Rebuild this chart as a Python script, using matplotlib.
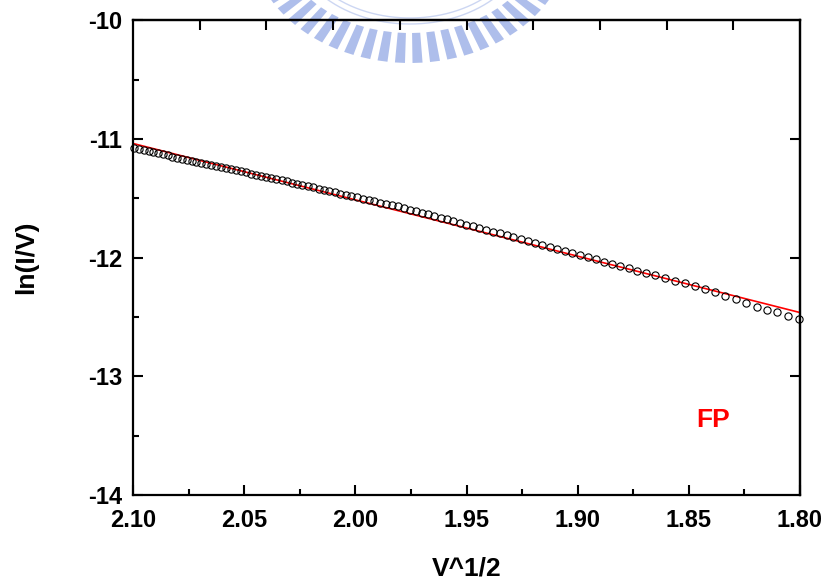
import numpy as np
import matplotlib.pyplot as plt
from matplotlib.patches import Polygon
from matplotlib.ticker import MultipleLocator

plt.rcParams['font.family'] = ['Liberation Sans', 'DejaVu Sans']
plt.rcParams['font.weight'] = 'bold'
plt.rcParams['axes.unicode_minus'] = False

# measured points, ln(I/V) vs V^1/2
v_sqrt = [2.0994, 2.0973, 2.0951, 2.0930, 2.0909, 2.0888, 2.0866, 2.0845, 2.0823, 2.0802,
          2.0780, 2.0758, 2.0737, 2.0715, 2.0693, 2.0671, 2.0649, 2.0627, 2.0605, 2.0583,
          2.0560, 2.0538, 2.0515, 2.0493, 2.0470, 2.0447, 2.0424, 2.0401, 2.0379, 2.0356,
          2.0332, 2.0309, 2.0285, 2.0262, 2.0238, 2.0214, 2.0190, 2.0166, 2.0141, 2.0117,
          2.0092, 2.0068, 2.0043, 2.0018, 1.9992, 1.9967, 1.9941, 1.9916, 1.9890, 1.9863,
          1.9837, 1.9810, 1.9783, 1.9756, 1.9729, 1.9701, 1.9673, 1.9646, 1.9617, 1.9589,
          1.9560, 1.9531, 1.9502, 1.9472, 1.9443, 1.9412, 1.9382, 1.9351, 1.9320, 1.9289,
          1.9257, 1.9225, 1.9192, 1.9160, 1.9126, 1.9092, 1.9058, 1.9024, 1.8989, 1.8954,
          1.8918, 1.8882, 1.8845, 1.8808, 1.8770, 1.8732, 1.8693, 1.8654, 1.8608, 1.8562,
          1.8517, 1.8472, 1.8427, 1.8382, 1.8337, 1.8289, 1.8243, 1.8194, 1.8147, 1.8102,
          1.8052, 1.8003]
ln_iv = [-11.078, -11.086, -11.095, -11.103, -11.112, -11.121, -11.129, -11.138, -11.147, -11.156,
         -11.164, -11.173, -11.182, -11.191, -11.199, -11.208, -11.217, -11.226, -11.235, -11.244,
         -11.253, -11.262, -11.271, -11.281, -11.290, -11.299, -11.308, -11.318, -11.327, -11.337,
         -11.347, -11.357, -11.367, -11.377, -11.387, -11.397, -11.407, -11.418, -11.428, -11.438,
         -11.449, -11.459, -11.470, -11.480, -11.491, -11.502, -11.513, -11.524, -11.535, -11.546,
         -11.557, -11.568, -11.581, -11.594, -11.608, -11.621, -11.635, -11.649, -11.663, -11.677,
         -11.692, -11.706, -11.720, -11.735, -11.750, -11.765, -11.780, -11.795, -11.811, -11.826,
         -11.842, -11.858, -11.874, -11.891, -11.908, -11.925, -11.942, -11.960, -11.978, -11.996,
         -12.014, -12.033, -12.051, -12.070, -12.090, -12.109, -12.129, -12.149, -12.172, -12.194,
         -12.216, -12.236, -12.267, -12.292, -12.320, -12.348, -12.380, -12.413, -12.444, -12.460,
         -12.489, -12.517]

# linear fit (Frenkel-Poole)
fit_x = [2.10, 1.80]
fit_y = [-11.037, -12.462]

fig = plt.figure(figsize=(8.32, 5.82), dpi=100)

# faint watermark logo at the top, drawn in pixel space behind the plot
bg = fig.add_axes([0, 0, 1, 1], zorder=0)
bg.set_xlim(0, 832)
bg.set_ylim(582, 0)
bg.axis('off')
cx, cy = 410, -62
logo_col = '#9aaee6'
for ang in np.arange(18, 163, 6.3):
    t0, t1 = np.radians(ang - 1.8), np.radians(ang + 1.8)
    pts = [(cx + 130 * np.cos(t0), cy + 95 * np.sin(t0)),
           (cx + 160 * np.cos(t0), cy + 125 * np.sin(t0)),
           (cx + 160 * np.cos(t1), cy + 125 * np.sin(t1)),
           (cx + 130 * np.cos(t1), cy + 95 * np.sin(t1))]
    bg.add_patch(Polygon(pts, closed=True, color=logo_col, alpha=0.8, lw=0))
tt = np.radians(np.linspace(15, 165, 200))
for a, b in [(118, 86), (112, 80)]:
    bg.plot(cx + a * np.cos(tt), cy + b * np.sin(tt), color=logo_col, lw=1.0, alpha=0.5)

ax = fig.add_axes([0.160, 0.1495, 0.8015, 0.8153], zorder=1)
ax.patch.set_alpha(0)

ax.plot(fit_x, fit_y, color='red', lw=1.2, zorder=2)
ax.plot(v_sqrt, ln_iv, 'o', mfc='none', mec='black', ms=5.2, mew=0.8, zorder=3, clip_on=False)

ax.set_xlim(2.10, 1.80)
ax.set_ylim(-14, -10)
ax.xaxis.set_major_locator(MultipleLocator(0.05))
ax.xaxis.set_minor_locator(MultipleLocator(0.025))
ax.yaxis.set_major_locator(MultipleLocator(1))
ax.yaxis.set_minor_locator(MultipleLocator(0.5))
ax.xaxis.set_major_formatter(plt.FormatStrFormatter('%.2f'))

ax.tick_params(which='both', direction='in', top=False, right=False, width=1.5)
ax.tick_params(which='major', length=7, labelsize=17)
ax.tick_params(axis='x', which='major', pad=10)
ax.tick_params(axis='y', which='major', pad=8)
ax.tick_params(which='minor', length=4)
for s in ax.spines.values():
    s.set_linewidth(1.6)

secx = ax.secondary_xaxis('top')
secx.set_xticks(np.arange(2.07, 1.81, -0.03))
secx.tick_params(direction='in', length=7, width=1.5, labeltop=False)
secx.spines['top'].set_linewidth(1.6)
secy = ax.secondary_yaxis('right')
secy.set_yticks([-11, -12, -13])
secy.tick_params(direction='in', length=7, width=1.5, labelright=False)
secy.spines['right'].set_linewidth(1.6)

ax.set_xlabel('V^1/2', fontsize=19, fontweight='bold', labelpad=18)
ax.set_ylabel('ln(I/V)', fontsize=19, fontweight='bold', labelpad=36)

ax.text(1.839, -13.37, 'FP', color='red', fontsize=19, fontweight='bold',
        ha='center', va='center')

fig.savefig('out.png', dpi=100)
